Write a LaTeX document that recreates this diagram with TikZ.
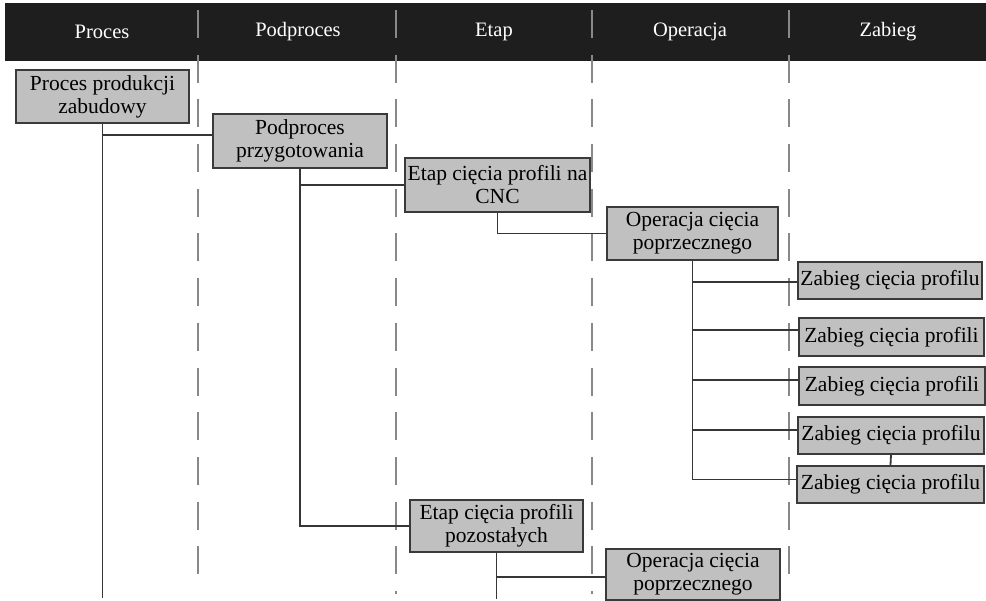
\documentclass[tikz,border=0pt]{standalone}
\usepackage{fontspec}
\setmainfont{Liberation Serif}
\definecolor{headbg}{HTML}{1E1E1E}
\definecolor{boxfill}{HTML}{C0C0C0}
\definecolor{boxline}{HTML}{3A3A3A}
\definecolor{linkgrey}{HTML}{363636}
\definecolor{lanegrey}{HTML}{888888}
\begin{document}
\begin{tikzpicture}[x=1pt,y=-1pt,
  box/.style={draw=boxline, line width=2pt, fill=boxfill, inner sep=0pt,
    align=center, text=black, font=\fontsize{21.5}{23}\selectfont},
  lane/.style={draw=lanegrey, line width=2.7pt, dash pattern=on 28pt off 16.7pt},
  link/.style={draw=linkgrey, line width=1.8pt},
  head/.style={text=white, inner sep=0pt, font=\fontsize{20.5}{24}\selectfont}]
\useasboundingbox (0,0) rectangle (986,601);

% header band with the column titles
\fill[headbg] (5,3) rectangle (986,61);
\node[head] (hproc) at (102,32) {Proces};
\node[head] (hpodp) at (298,32) {Podproces};
\node[head] (hetap) at (494,32) {Etap};
\node[head] (hoper) at (690,32) {Operacja};
\node[head] (hzab)  at (888,32) {Zabieg};

% dashed lane separators
\draw[lane] (198,10) -- (198,575);
\draw[lane] (396,10) -- (396,594);
\draw[lane] (592,10) -- (592,594);
\draw[lane] (789,10) -- (789,575);

% boxes
\node[box, minimum width=173pt, minimum height=53pt] (proc)  at (102.5,96.5) {Proces produkcji\\zabudowy};
\node[box, minimum width=174pt, minimum height=54pt] (podp)  at (300,141)   {Podproces\\przygotowania};
\node[box, minimum width=185pt, minimum height=54pt] (etap1) at (497.5,185) {Etap cięcia profili na\\CNC};
\node[box, minimum width=171pt, minimum height=53pt] (op1)   at (692.5,233.5) {Operacja cięcia\\poprzecznego};
\node[box, minimum width=184pt, minimum height=37pt] (z1) at (890,280.5)  {Zabieg cięcia profilu};
\node[box, minimum width=185pt, minimum height=38pt] (z2) at (891.5,337)  {Zabieg cięcia profili};
\node[box, minimum width=186pt, minimum height=38pt] (z3) at (892,386)    {Zabieg cięcia profili};
\node[box, minimum width=186pt, minimum height=37pt] (z4) at (891,435.5)  {Zabieg cięcia profilu};
\node[box, minimum width=187pt, minimum height=37pt] (z5) at (890.5,484.5) {Zabieg cięcia profilu};
\node[box, minimum width=173pt, minimum height=52pt] (etap2) at (496.5,526) {Etap cięcia profili\\pozostałych};
\node[box, minimum width=174pt, minimum height=51pt] (op2)   at (693,574.5) {Operacja cięcia\\poprzecznego};

% free ends of the trunks at the bottom
\coordinate (procend) at (102.5,598);
\coordinate (etapend) at (496.5,599);

% connectors
\draw[link] (proc.south) -- (procend);
\draw[link] ([yshift=6pt]podp.west -| proc.south) -- ([yshift=6pt]podp.west);
\draw[link] (podp.south) |- (etap2.west);
\draw[link] (etap1.west -| podp.south) -- (etap1.west);
\draw[link] (etap1.south) |- (op1.west);
\draw[link] (op1.south) |- ([yshift=5pt]z5.west);
\draw[link] ([yshift=-1.5pt]z1.west -| op1.south) -- ([yshift=-1.5pt]z1.west);
\draw[link] ([yshift=7pt]z2.west -| op1.south) -- ([yshift=7pt]z2.west);
\draw[link] ([yshift=6pt]z3.west -| op1.south) -- ([yshift=6pt]z3.west);
\draw[link] ([yshift=5.5pt]z4.west -| op1.south) -- ([yshift=5.5pt]z4.west);
\draw[link] (z4.south) -- (z5.north);
\draw[link] (etap2.south) -- (etapend);
\draw[link] ([yshift=-2.5pt]op2.west -| etap2.south) -- ([yshift=-2.5pt]op2.west);
\end{tikzpicture}
\end{document}
